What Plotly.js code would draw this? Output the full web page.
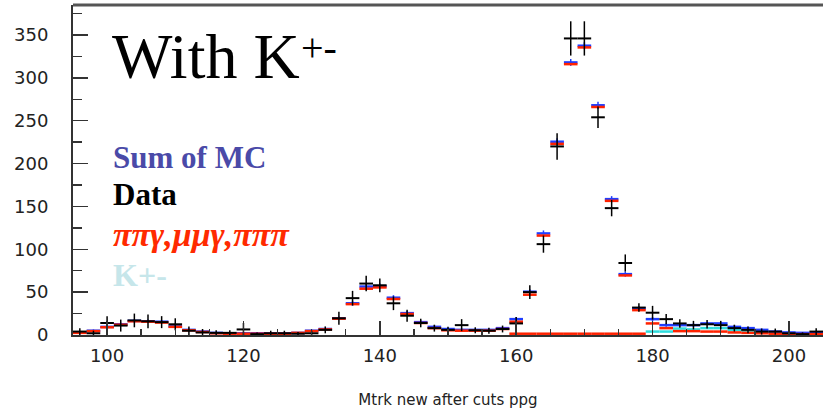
<!DOCTYPE html>
<html>
<head>
<meta charset="utf-8">
<script src="https://cdn.plot.ly/plotly-3.0.1.min.js"></script>
<style>
  html, body { margin: 0; padding: 0; background: #fff; }
  #chart { width: 823px; height: 412px; }
</style>
</head>
<body>
<div id="chart"></div>
<script>
// Bin centres (2-unit bins) of the track-mass histogram
const binCenters = [96, 98, 100, 102, 104, 106, 108, 110, 112, 114, 116, 118, 120, 122, 124, 126, 128, 130,
  132, 134, 136, 138, 140, 142, 144, 146, 148, 150, 152, 154, 156, 158, 160, 162, 164, 166, 168, 170,
  172, 174, 176, 178, 180, 182, 184, 186, 188, 190, 192, 194, 196, 198, 200, 202, 204];

// Measured data and its errors
const dataCounts = [4, 2, 14, 11, 17, 16, 15, 12.5, 5, 3, 2.5, 2.5, 6.5, 1, 2, 2, 1.5, 2,
  6, 19.5, 43, 60, 58, 37, 22.5, 14, 8, 6, 11.5, 5.5, 5, 7, 13.5, 50, 106, 220, 346, 346,
  254, 148, 84, 32, 26, 18.5, 13.5, 11.5, 12.5, 11.5, 8, 6, 4, 4, 2, 1, 4];
const dataErr = [4, 3, 8, 7, 8, 8, 7, 7, 5, 4, 3, 3, 7.5, 2, 3, 3, 2, 3,
  4, 7.5, 8.5, 9, 8, 8, 7, 5, 4, 3.5, 7, 3.5, 3.5, 4, 7.5, 8, 10, 15.5, 20, 20,
  12.5, 9.5, 10, 5, 8, 6, 5, 5, 5, 5, 4, 4, 3.5, 3.5, 3, 2, 4];

// Sum of all Monte Carlo samples
const mcSum = [3, 5, 9.5, 12.5, 16.5, 16, 15.5, 10, 6, 4, 2.5, 2, 2, 2, 2, 2, 2.5, 5,
  7, 19.5, 37, 56.5, 57, 43.5, 25.5, 15, 9.5, 7, 6, 6, 6, 8, 18.5, 50.5, 118.5, 225.5, 318, 337.5,
  268, 158.5, 71, 31, 18.5, 11.5, 11.5, 11.5, 13.5, 13.5, 9.5, 8, 6, 4, 3, 2.5, 2];
const mcErr = [1.5, 1.5, 2, 2, 2, 2, 2, 2, 1.5, 1.5, 1, 1, 1, 1, 1, 1, 1, 1.5,
  1.5, 2, 3, 3, 3, 3, 2.5, 2, 2, 1.5, 1.5, 1.5, 1.5, 1.5, 2.5, 3, 3.5, 4, 4, 4,
  4, 3.5, 3, 2.5, 2.5, 2, 2, 2, 2, 2, 2, 1.5, 1.5, 1.5, 1, 1, 1];

// pi pi gamma, mu mu gamma, pi pi pi samples
const mcPiMu = [2.5, 4.5, 9, 12, 16, 15.5, 14.5, 9.5, 5.5, 3.5, 2, 1.5, 1.5, 1.5, 1.5, 1.5, 2.5, 4.5,
  6.5, 19, 36, 54, 55.5, 42, 24.5, 14, 8, 5.5, 5, 5, 5, 7, 15.5, 47, 116, 223, 316, 335.5,
  266, 156.5, 69.5, 29, 13.5, 8, 4.5, 4.5, 4, 4, 3, 2.5, 2, 1.5, 1, 1, 1];

// Smaller component drawn along the baseline
const lowCompBins = [160, 162, 164, 166, 168, 170, 172, 174, 176, 178];
const lowComp = [1.5, 1.5, 1.5, 1.5, 1.5, 1.5, 1.5, 1.5, 1.5, 1.5];

// Charged kaon sample
const kaonBins = [180, 182, 184, 186, 188, 190, 192, 194, 196, 198, 200, 202, 204];
const kaonCounts = [4, 4, 7.5, 6.5, 8, 8, 6, 5, 4, 2.5, 2, 1.5, 1];

const BLUE = '#1f3dff', RED = '#ff2200', CYAN = '#2edcdc', BLACK = '#000000';

function binTrace(x, y, err, color, thick, name) {
  const t = {
    type: 'scatter', mode: 'markers', name: name, x: x, y: y,
    marker: { size: 1, color: color },
    error_x: { type: 'constant', value: 1, width: 0, thickness: thick, color: color },
    showlegend: false, hoverinfo: 'x+y'
  };
  if (err) {
    t.error_y = { type: 'data', array: err, width: 0, thickness: Math.max(1.5, thick - 1), color: color };
  }
  return t;
}

const traces = [
  binTrace(kaonBins, kaonCounts, null, CYAN, 2.5, 'K+-'),
  binTrace(lowCompBins, lowComp, null, RED, 2.5, 'component'),
  binTrace(binCenters, mcSum, mcErr, BLUE, 2.5, 'Sum of MC'),
  binTrace(binCenters, mcPiMu, null, RED, 2.5, 'ππγ,μμγ,πππ'),
  binTrace(binCenters, dataCounts, dataErr, BLACK, 2, 'Data')
];

const plotL = 73, plotR = 823, plotT = 5, plotB = 335;
const px = v => (v - plotL) / (plotR - plotL);
const py = v => (plotB - v) / (plotB - plotT);

const serif = 'Liberation Serif, Times New Roman, serif';
const annotations = [
  { text: 'With K', x: px(110), y: py(56), xanchor: 'left', yanchor: 'middle',
    font: { family: serif, size: 64, color: '#000' } },
  { text: '+-', x: px(299), y: py(47), xanchor: 'left', yanchor: 'middle',
    font: { family: serif, size: 40, color: '#000' } },
  { text: '<b>Sum of MC</b>', x: px(111), y: py(157), xanchor: 'left', yanchor: 'middle',
    font: { family: serif, size: 31, color: '#4a4aa8' } },
  { text: '<b>Data</b>', x: px(111), y: py(195), xanchor: 'left', yanchor: 'middle',
    font: { family: serif, size: 31, color: '#000' } },
  { text: '<b><i>ππγ,μμγ,πππ</i></b>', x: px(111), y: py(234), xanchor: 'left', yanchor: 'middle',
    font: { family: serif, size: 34, color: '#ff2a00' } },
  { text: '<b>K+-</b>', x: px(111), y: py(275), xanchor: 'left', yanchor: 'middle',
    font: { family: serif, size: 32, color: '#c6e6ea' } }
].map(a => Object.assign({ xref: 'paper', yref: 'paper', showarrow: false }, a));

const tickFont = { family: 'DejaVu Sans, sans-serif', size: 18, color: '#222' };

const layout = {
  width: 823, height: 412,
  margin: { l: plotL, r: 823 - plotR, t: plotT, b: 412 - plotB },
  paper_bgcolor: '#fff', plot_bgcolor: '#fff',
  showlegend: false,
  xaxis: {
    range: [95, 205], showgrid: false, zeroline: false,
    showline: true, linecolor: '#333', linewidth: 2,
    ticks: 'inside', ticklen: 14, tickwidth: 1.5, tickcolor: '#333',
    dtick: 20, tick0: 0, tickfont: tickFont, ticklabelstandoff: 3,
    minor: { dtick: 5, tick0: 0, ticks: 'inside', ticklen: 6, tickwidth: 1.5, tickcolor: '#333' },
    title: { text: 'Mtrk new after cuts ppg', standoff: 30,
      font: { family: 'DejaVu Sans, sans-serif', size: 15, color: '#222' } }
  },
  yaxis: {
    range: [0, 385], showgrid: false, zeroline: false,
    showline: true, linecolor: '#333', linewidth: 2,
    ticks: 'inside', ticklen: 15, tickwidth: 1.5, tickcolor: '#333',
    dtick: 50, tick0: 0, tickfont: tickFont, ticklabelstandoff: 19,
    minor: { dtick: 25, tick0: 0, ticks: 'inside', ticklen: 9, tickwidth: 1.5, tickcolor: '#333' }
  },
  shapes: [
    { type: 'line', xref: 'paper', yref: 'paper', x0: 0, x1: 1, y0: 1, y1: 1,
      line: { color: '#555', width: 3 } }
  ],
  annotations: annotations
};

Plotly.newPlot('chart', traces, layout, { displayModeBar: false, staticPlot: true });
</script>
</body>
</html>
